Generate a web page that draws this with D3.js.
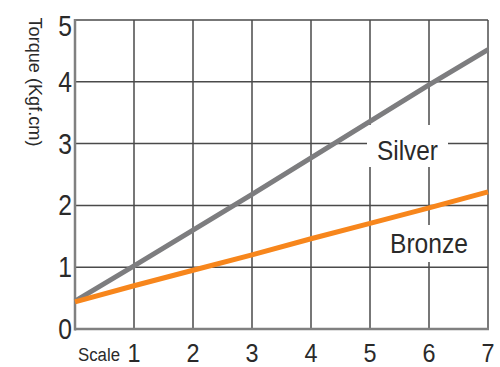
<!DOCTYPE html>
<html><head><meta charset="utf-8">
<script src="https://cdn.jsdelivr.net/npm/d3@7"></script>
<style>html,body{margin:0;padding:0;background:#fff;}svg{display:block;}</style>
</head><body>
<svg id="c" width="500" height="367"></svg>
<script>
const scaleValues = [0, 1, 2, 3, 4, 5, 6, 7];
const silverTorque = [0.45, 1.02, 1.6, 2.18, 2.77, 3.36, 3.95, 4.52];
const bronzeTorque = [0.44, 0.7, 0.95, 1.2, 1.46, 1.71, 1.96, 2.22];
const xTickLabels = [1, 2, 3, 4, 5, 6, 7];
const yTickLabels = [0, 1, 2, 3, 4, 5];
const seriesNames = ["Silver", "Bronze"];

const svg = d3.select("#c");
const x = d3.scaleLinear().domain([0, 7]).range([75, 488]);
const y = d3.scaleLinear().domain([0, 5]).range([329, 20]);
const font = "'Liberation Sans', Arial, sans-serif";

// grid
const grid = svg.append("g");
grid.selectAll("line.v").data(xTickLabels).join("line")
  .attr("x1", d => x(d)).attr("x2", d => x(d))
  .attr("y1", y(0)).attr("y2", y(5))
  .attr("stroke", d => d === 7 ? "#7a7a7a" : "#4a4a4a")
  .attr("stroke-width", d => d === 7 ? 2 : 1.5);
grid.selectAll("line.h").data(yTickLabels.filter(d => d > 0)).join("line")
  .attr("x1", x(0)).attr("x2", x(7))
  .attr("y1", d => y(d)).attr("y2", d => y(d))
  .attr("stroke", "#4a4a4a").attr("stroke-width", 1.5);

// axes lines
svg.append("line").attr("x1", x(0)).attr("x2", x(0)).attr("y1", y(5) - 1).attr("y2", y(0) + 1.5)
  .attr("stroke", "#808080").attr("stroke-width", 2.5);
svg.append("line").attr("x1", x(0)).attr("x2", x(7) + 1).attr("y1", y(0)).attr("y2", y(0))
  .attr("stroke", "#808080").attr("stroke-width", 2.5);

// label boxes
const labelBoxes = [
  {name: seriesNames[0], x0: 367, x1: 448, y0: 125, y1: 167, tx: 407.5, ty: 160},
  {name: seriesNames[1], x0: 380, x1: 478, y0: 225, y1: 262, tx: 429, ty: 253}
];
svg.selectAll("rect.lb").data(labelBoxes).join("rect")
  .attr("x", d => d.x0).attr("y", d => d.y0)
  .attr("width", d => d.x1 - d.x0).attr("height", d => d.y1 - d.y0)
  .attr("fill", "#fff");

// lines
const lineGen = vals => d3.line().x((d, i) => x(scaleValues[i])).y(d => y(d))(vals);
svg.append("path").attr("d", lineGen(silverTorque))
  .attr("fill", "none").attr("stroke", "#7d7d7f").attr("stroke-width", 5);
svg.append("path").attr("d", lineGen(bronzeTorque))
  .attr("fill", "none").attr("stroke", "#f7861c").attr("stroke-width", 5);

// series labels
svg.selectAll("text.lb").data(labelBoxes).join("text")
  .attr("x", d => d.tx).attr("y", d => d.ty)
  .attr("text-anchor", "middle")
  .attr("font-family", font).attr("font-size", 27)
  .attr("fill", "#2a2a2a")
  .attr("textLength", (d, i) => i === 0 ? 61 : 78)
  .attr("lengthAdjust", "spacingAndGlyphs")
  .text(d => d.name);

// x tick labels
svg.selectAll("text.xt").data(xTickLabels).join("text")
  .attr("x", d => x(d)).attr("y", 362)
  .attr("text-anchor", "middle")
  .attr("font-family", font).attr("font-size", 26)
  .attr("fill", "#2a2a2a")
  .attr("transform", d => `translate(${x(d)},0) scale(0.9,1) translate(${-x(d)},0)`)
  .text(d => d);
svg.append("text").attr("x", 78).attr("y", 361)
  .attr("font-family", font).attr("font-size", 18)
  .attr("fill", "#2a2a2a")
  .attr("textLength", 42).attr("lengthAdjust", "spacingAndGlyphs")
  .text("Scale");

// y tick labels
svg.selectAll("text.yt").data(yTickLabels).join("text")
  .attr("x", 72).attr("y", d => Math.max(y(d), 26) + 10)
  .attr("text-anchor", "end")
  .attr("font-family", font).attr("font-size", 29)
  .attr("fill", "#2a2a2a")
  .attr("transform", `translate(72,0) scale(0.85,1) translate(-72,0)`)
  .text(d => d);

// y axis title
svg.append("text")
  .attr("transform", "translate(29,82) rotate(90)")
  .attr("text-anchor", "middle")
  .attr("font-family", font).attr("font-size", 19)
  .attr("fill", "#2a2a2a")
  .attr("textLength", 129).attr("lengthAdjust", "spacingAndGlyphs")
  .text("Torque (Kgf.cm)");
</script>
</body></html>
